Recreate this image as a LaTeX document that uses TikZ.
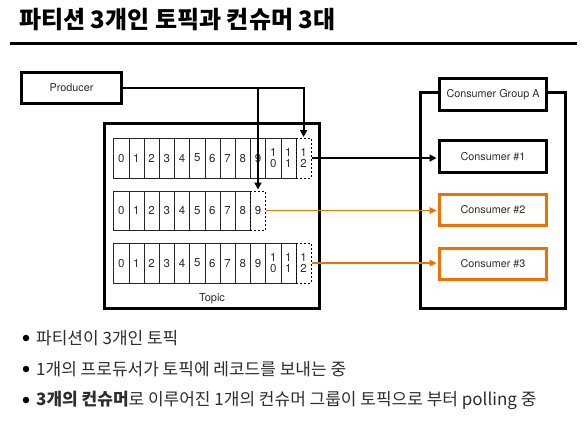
\documentclass[tikz,border=0pt]{standalone}
\usepackage{fontspec}
\setmainfont{Noto Sans CJK KR}
\newfontfamily\lat{TeX Gyre Heros}
\usetikzlibrary{arrows.meta}
\definecolor{korange}{RGB}{240,112,0}
\definecolor{txt}{RGB}{45,45,45}
\begin{document}
\begin{tikzpicture}[x=1pt,y=-1pt,
  box/.style={draw=black,line width=3pt,inner sep=0pt,font=\lat\fontsize{10.8}{12}\selectfont,text=txt},
  obox/.style={box,draw=korange},
  cell/.style={draw=black!85,line width=0.6pt,minimum width=15.2pt,minimum height=39.5pt,inner sep=0pt,anchor=north west,align=center,font=\lat\fontsize{11.5}{11.5}\selectfont,text=txt},
  dcell/.style={cell,dash pattern=on 2pt off 2pt,draw=black},
  conn/.style={line width=2pt,-{Triangle[length=7pt,width=7pt]}},
  oconn/.style={korange,line width=1.5pt,-{Triangle[length=7pt,width=6.5pt]}},
  dot/.style={circle,fill=black,inner sep=0pt,minimum size=6.5pt},
  bullet/.style={anchor=west,inner sep=0pt,text=txt,font=\fontsize{17}{20}\selectfont}
]
\useasboundingbox (0,0) rectangle (585,424);
% title
\node[anchor=west,inner sep=0pt,font=\bfseries\fontsize{24}{28}\selectfont] (title) at (19,20) {파티션 3개인 토픽과 컨슈머 3대};
\draw[line width=3pt] (10,43) -- (577,43);
% producer
\node[box,minimum width=100pt,minimum height=31pt] (prod) at (71.5,88) {Producer};
% topic
\node[box,minimum width=215pt,minimum height=185pt] (topic) at (212,216) {};
\node[inner sep=0pt,font=\lat\fontsize{11}{12}\selectfont,text=txt] (topiclabel) at (212,299) {Topic};
% partitions
\foreach \r/\y/\n in {1/138/12,2/190.5/9,3/243/12}{
  \foreach \i in {0,...,\n}{
    \pgfmathtruncatemacro{\last}{\i==\n}
    \ifnum\i<10
      \def\lab{\i}
    \else
      \pgfmathtruncatemacro{\u}{\i-10}
      \edef\lab{1\noexpand\\\u}
    \fi
    \ifnum\last=1
      \node[dcell] (r\r c\i) at ({113.3+15.2*\i},\y) {\lab};
    \else
      \node[cell] (r\r c\i) at ({113.3+15.2*\i},\y) {\lab};
    \fi
  }
}
% consumer group
\node[box,minimum width=145pt,minimum height=216pt] (group) at (493,200.5) {};
\node[box,fill=white,minimum width=107pt,minimum height=32pt] (cga) at (493,94.5) {Consumer Group A};
\node[box,minimum width=107pt,minimum height=32pt] (c1) at (493,156.5) {Consumer \#1};
\node[obox,minimum width=107pt,minimum height=31pt] (c2) at (493,210) {Consumer \#2};
\node[obox,minimum width=107pt,minimum height=31pt] (c3) at (493,264) {Consumer \#3};
% producer connectors
\coordinate (split) at (r2c9.north |- prod.east);
\draw[conn] (prod.east) -| ([yshift=1pt]r1c12.north);
\draw[conn] (split) -- ([yshift=1pt]r2c9.north);
% consumer connectors
\draw[conn,line width=1.6pt,shorten >=1.5pt] (r1c12.east) -- (r1c12.east -| c1.west);
\draw[oconn,shorten >=1.5pt] (r2c9.east) -- (r2c9.east -| c2.west);
\draw[oconn,shorten >=1.5pt] (r3c12.east) -- (r3c12.east -| c3.west);
% bullets
\node[dot] (d1) at (26,338) {};
\node[dot] (d2) at (26,369) {};
\node[dot] (d3) at (26,400) {};
\node[bullet] (b1) at (36,338) {파티션이 3개인 토픽};
\node[bullet] (b2) at (36,369) {1개의 프로듀서가 토픽에 레코드를 보내는 중};
\node[bullet] (b3) at (36,400) {\textbf{3개의 컨슈머}로 이루어진 1개의 컨슈머 그룹이 토픽으로 부터 polling 중};
\end{tikzpicture}
\end{document}
